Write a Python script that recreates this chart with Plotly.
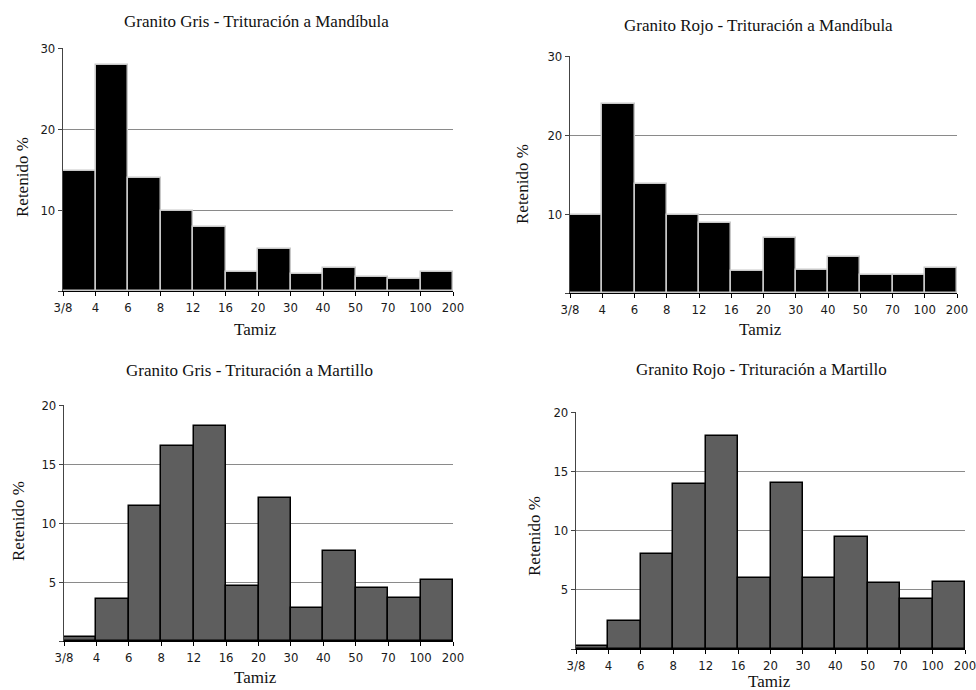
import plotly.graph_objects as go

W, H = 976, 690

sieves = ["3/8", "4", "6", "8", "12", "16", "20", "30", "40", "50", "70", "100", "200"]

gris_mandibula = [14.8, 27.85, 13.9, 9.93, 7.9, 2.35, 5.2, 2.14, 2.9, 1.73, 1.5, 2.35]
rojo_mandibula = [9.85, 23.9, 13.86, 9.84, 8.9, 2.8, 6.9, 2.96, 4.6, 2.3, 2.3, 3.2]
gris_martillo = [0.34, 3.53, 11.4, 16.5, 18.2, 4.7, 12.1, 2.8, 7.65, 4.46, 3.67, 5.17]
rojo_martillo = [0.22, 2.33, 8.0, 13.96, 18.0, 5.96, 14.0, 6.0, 9.47, 5.6, 4.24, 5.67]

titles = [
    "Granito Gris - Trituración a Mandíbula",
    "Granito Rojo - Trituración a Mandíbula",
    "Granito Gris - Trituración a Martillo",
    "Granito Rojo - Trituración a Martillo",
]

# pixel boxes: (x0, x1, ytop, ybottom)
boxes = [(63, 453, 48, 291), (570, 957, 56, 293), (64, 453, 405, 641), (576, 965, 412, 649)]
title_pos = [(256, 21), (758, 25), (250, 370), (761, 369)]
tamiz_pos = [(255, 329), (760, 329), (255, 677), (769, 681)]
ret_pos = [(22, 177), (523, 184), (18, 521), (534, 536)]

series = [gris_mandibula, rojo_mandibula, gris_martillo, rojo_martillo]
ymax = [30, 30, 20, 20]
ytickvals = [[0, 10, 20, 30], [0, 10, 20, 30], [0, 5, 10, 15, 20], [0, 5, 10, 15, 20]]
fills = ["#000000", "#000000", "#5e5e5e", "#5e5e5e"]
edges = ["#c8c8c8", "#c8c8c8", "#000000", "#000000"]

def px(x):
    return x / W

def py(y):
    return 1 - y / H

fig = go.Figure()
annotations = []
serif = "Liberation Serif, Times New Roman, serif"
sans = "DejaVu Sans Condensed, DejaVu Sans, Verdana, sans-serif"

for i in range(4):
    n = "" if i == 0 else str(i + 1)
    centers = [k + 0.5 for k in range(len(series[i]))]
    fig.add_trace(go.Bar(
        x=centers, y=series[i], width=1.0,
        marker=dict(color=fills[i], line=dict(color=edges[i], width=1.5)),
        xaxis="x" + n, yaxis="y" + n, showlegend=False, hoverinfo="y",
    ))
    x0, x1, yt, yb = boxes[i]
    fig.layout["xaxis" + n] = dict(
        domain=[px(x0), px(x1)], anchor="y" + n, range=[0, 12], automargin=False,
        tickvals=list(range(13)), ticktext=sieves, ticklabeloverflow="allow",
        showline=True, linecolor="#000000", linewidth=1.2,
        ticks="outside", ticklen=4, tickcolor="#000000",
        showgrid=False, zeroline=False,
        tickfont=dict(family=sans, size=13, color="#1a1a1a"),
    )
    fig.layout["yaxis" + n] = dict(
        domain=[py(yb), py(yt)], anchor="x" + n, range=[0, ymax[i]], automargin=False,
        tickvals=ytickvals[i], ticktext=[""] + [str(v) for v in ytickvals[i][1:]],
        showline=True, linecolor="#444444", linewidth=1.2,
        ticks="outside", ticklen=4, tickcolor="#444444",
        showgrid=True, gridcolor="#8a8a8a", gridwidth=1, zeroline=False,
        tickfont=dict(family=sans, size=13, color="#1a1a1a"),
    )
    tx, ty = title_pos[i]
    annotations.append(dict(text=titles[i], x=px(tx), y=py(ty), xref="paper", yref="paper",
                            xanchor="center", yanchor="middle", showarrow=False,
                            font=dict(family=serif, size=17, color="#111111")))
    tx, ty = tamiz_pos[i]
    annotations.append(dict(text="Tamiz", x=px(tx), y=py(ty), xref="paper", yref="paper",
                            xanchor="center", yanchor="middle", showarrow=False,
                            font=dict(family=serif, size=17, color="#111111")))
    tx, ty = ret_pos[i]
    annotations.append(dict(text="Retenido %", x=px(tx), y=py(ty), xref="paper", yref="paper",
                            xanchor="center", yanchor="middle", showarrow=False, textangle=-90,
                            font=dict(family=serif, size=17, color="#111111")))

fig.update_layout(
    width=W, height=H, margin=dict(l=0, r=0, t=0, b=0),
    paper_bgcolor="white", plot_bgcolor="white",
    annotations=annotations, bargap=0,
)

fig.write_html(
    "out.html",
    config={"displayModeBar": False},
    post_script="document.body.style.margin='0px'; document.body.style.overflow='hidden';",
)
